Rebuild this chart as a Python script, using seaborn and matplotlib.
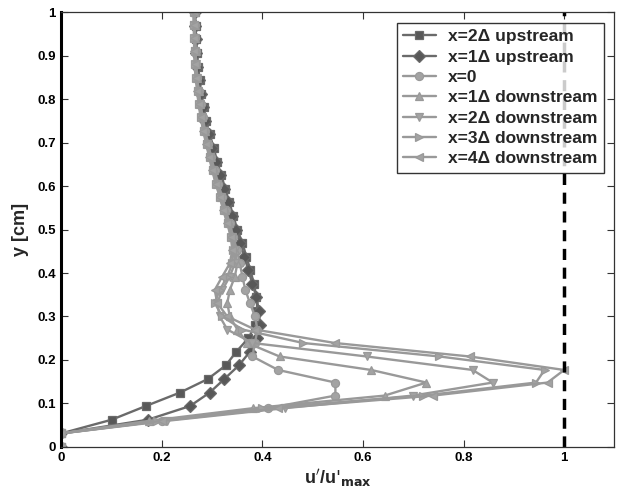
import matplotlib
matplotlib.use("Agg")
import matplotlib.pyplot as plt
import seaborn as sns
import pandas as pd

# ---- data ----
y_up = [0.0, 0.031, 0.0625, 0.094, 0.125, 0.156, 0.1875, 0.219, 0.25, 0.281,
        0.3125, 0.344, 0.375, 0.406, 0.4375, 0.469, 0.5, 0.531, 0.5625, 0.594,
        0.625, 0.656, 0.6875, 0.719, 0.75, 0.781, 0.8125, 0.844, 0.875, 0.906,
        0.9375, 0.969, 1.0]
x_up2 = [0.0, 0.0, 0.100, 0.168, 0.236, 0.291, 0.327, 0.348, 0.372, 0.386,
         0.390, 0.388, 0.383, 0.376, 0.368, 0.360, 0.350, 0.342, 0.334, 0.326,
         0.318, 0.310, 0.303, 0.295, 0.288, 0.283, 0.278, 0.275, 0.272, 0.270,
         0.268, 0.267, 0.266]
x_up1 = [0.0, 0.0, 0.172, 0.256, 0.295, 0.324, 0.353, 0.375, 0.390, 0.395,
         0.393, 0.388, 0.380, 0.372, 0.364, 0.356, 0.347, 0.339, 0.331, 0.323,
         0.315, 0.307, 0.300, 0.293, 0.286, 0.281, 0.277, 0.273, 0.270, 0.268,
         0.267, 0.266, 0.265]

y_dn = [0.0, 0.031, 0.060, 0.089, 0.118, 0.148, 0.177, 0.208, 0.239, 0.270,
        0.300, 0.331, 0.361, 0.392, 0.422, 0.453, 0.483, 0.514, 0.544, 0.575,
        0.605, 0.636, 0.666, 0.697, 0.727, 0.758, 0.788, 0.819, 0.849, 0.880,
        0.910, 0.941, 0.971, 1.0]
x_0 = [0.0, 0.0, 0.200, 0.410, 0.545, 0.545, 0.431, 0.380, 0.385, 0.390,
       0.385, 0.375, 0.366, 0.360, 0.355, 0.349, 0.342, 0.335, 0.327, 0.320,
       0.312, 0.305, 0.298, 0.292, 0.286, 0.281, 0.277, 0.273, 0.270, 0.268,
       0.267, 0.266, 0.265, 0.265]
x_dn1 = [0.0, 0.0, 0.175, 0.381, 0.643, 0.726, 0.616, 0.434, 0.370, 0.350,
         0.335, 0.330, 0.335, 0.345, 0.350, 0.345, 0.340, 0.333, 0.325, 0.318,
         0.310, 0.303, 0.297, 0.291, 0.285, 0.280, 0.276, 0.273, 0.270, 0.268,
         0.267, 0.266, 0.265, 0.265]
x_dn2 = [0.0, 0.0, 0.210, 0.444, 0.699, 0.858, 0.818, 0.607, 0.380, 0.330,
         0.315, 0.310, 0.320, 0.335, 0.345, 0.345, 0.340, 0.332, 0.324, 0.317,
         0.309, 0.302, 0.296, 0.290, 0.284, 0.279, 0.275, 0.272, 0.269, 0.267,
         0.266, 0.265, 0.264, 0.264]
x_dn3 = [0.0, 0.0, 0.190, 0.400, 0.720, 0.944, 0.961, 0.752, 0.481, 0.360,
         0.320, 0.305, 0.315, 0.330, 0.340, 0.342, 0.338, 0.331, 0.323, 0.316,
         0.308, 0.301, 0.295, 0.289, 0.283, 0.278, 0.274, 0.271, 0.268, 0.266,
         0.265, 0.264, 0.264, 0.263]
x_dn4 = [0.0, 0.0, 0.200, 0.430, 0.739, 0.967, 1.000, 0.812, 0.544, 0.385,
         0.330, 0.310, 0.305, 0.320, 0.335, 0.340, 0.337, 0.330, 0.322, 0.315,
         0.307, 0.300, 0.294, 0.288, 0.282, 0.277, 0.273, 0.270, 0.267, 0.265,
         0.264, 0.264, 0.263, 0.263]

labels = ["x=2\u0394 upstream", "x=1\u0394 upstream", "x=0",
          "x=1\u0394 downstream", "x=2\u0394 downstream",
          "x=3\u0394 downstream", "x=4\u0394 downstream"]
x_ticks = [0, 0.2, 0.4, 0.6, 0.8, 1]
x_tick_labels = ["0", "0.2", "0.4", "0.6", "0.8", "1"]
y_ticks = [0, 0.1, 0.2, 0.3, 0.4, 0.5, 0.6, 0.7, 0.8, 0.9, 1]
y_tick_labels = ["0", "0.1", "0.2", "0.3", "0.4", "0.5", "0.6", "0.7", "0.8", "0.9", "1"]

series = [(x_up2, y_up), (x_up1, y_up), (x_0, y_dn), (x_dn1, y_dn),
          (x_dn2, y_dn), (x_dn3, y_dn), (x_dn4, y_dn)]
markers = ["s", "D", "o", "^", "v", ">", "<"]
line_colors = ["#6a6a6a", "#6a6a6a", "#999999", "#999999", "#999999", "#999999", "#999999"]
face_colors = ["#585858", "#585858", "#a3a3a3", "#a3a3a3", "#a3a3a3", "#a3a3a3", "#a3a3a3"]

sns.set_style("white")
plt.rcParams['font.family'] = ['Liberation Sans', 'DejaVu Sans']

fig = plt.figure(figsize=(6.2, 4.9), dpi=100)
ax = fig.add_axes([0.099, 0.088, 0.892, 0.887])

for (xs, ys), lab, m, lc, fc in zip(series, labels, markers, line_colors, face_colors):
    df = pd.DataFrame({"u": xs, "y": ys})
    sns.lineplot(data=df, x="u", y="y", sort=False, estimator=None, ax=ax,
                 color=lc, lw=1.7, marker=m, markersize=5.8,
                 markerfacecolor=fc, markeredgecolor=lc, markeredgewidth=0.9,
                 label=lab)

ax.plot([1, 1], [0, 1], color="black", lw=2.5, ls=(0, (3.2, 2.2)))

ax.set_xlim(0, 1.1)
ax.set_ylim(0, 1)
ax.set_xticks(x_ticks)
ax.set_xticklabels(x_tick_labels, fontweight="bold", fontsize=9.5)
ax.set_yticks(y_ticks)
ax.set_yticklabels(y_tick_labels, fontweight="bold", fontsize=9.5)
ax.tick_params(direction="in", length=5, width=0.8, top=True, right=True,
               bottom=True, left=True, colors="#333333", labelcolor="black", pad=4)
for s in ["top", "right", "bottom"]:
    ax.spines[s].set_color("#333333")
    ax.spines[s].set_linewidth(0.9)
ax.spines["left"].set_color("black")
ax.spines["left"].set_linewidth(2.2)

ax.set_xlabel("u$'$/u$'_{\\mathbf{max}}$", fontsize=13, fontweight="bold", labelpad=2)
ax.set_ylabel("y [cm]", fontsize=13, fontweight="bold", labelpad=6)

leg = ax.legend(loc="upper right", bbox_to_anchor=(0.996, 0.995), frameon=True,
                fancybox=False, edgecolor="black", handlelength=1.9,
                handletextpad=0.7, borderpad=0.35, labelspacing=0.3,
                prop={"weight": "bold", "size": 12.5})
leg.get_frame().set_linewidth(1.0)

fig.savefig("out.png", dpi=100)
